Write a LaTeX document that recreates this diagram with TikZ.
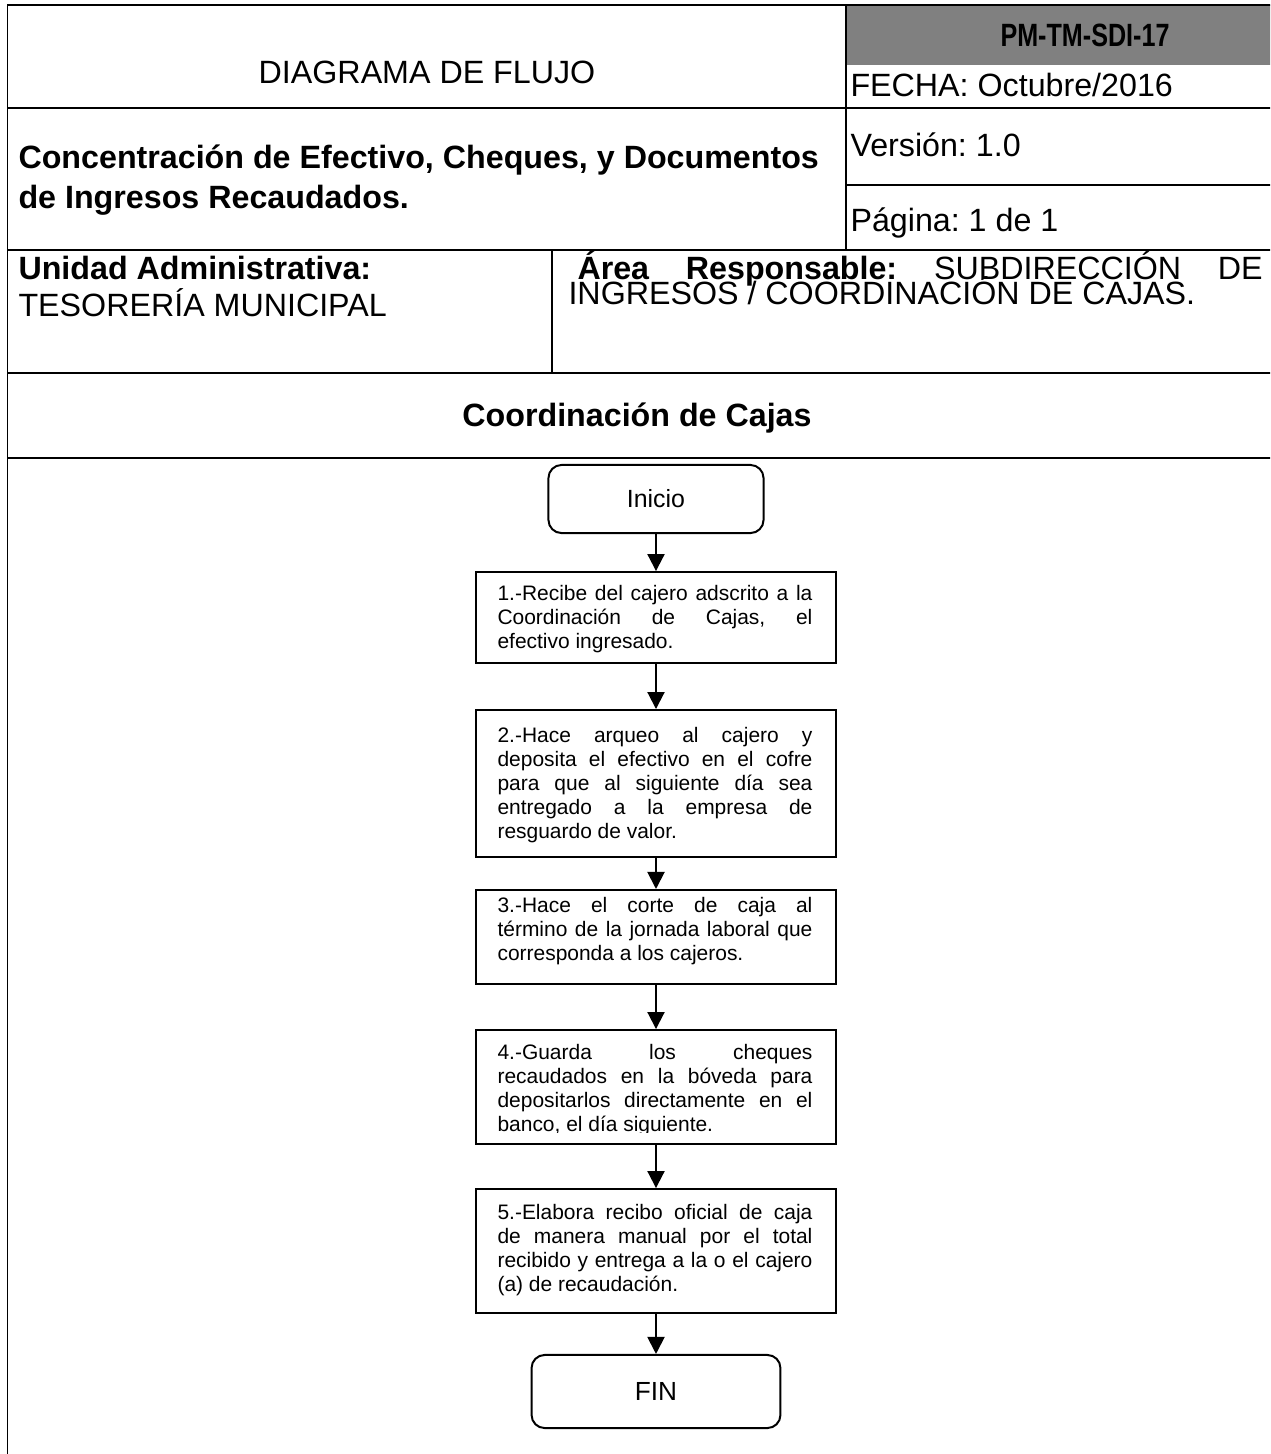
\documentclass[tikz,border=0pt]{standalone}
\usepackage{fontspec}
\usepackage{graphicx}
\setmainfont{Liberation Sans}
\usetikzlibrary{arrows.meta}
\definecolor{hdrgray}{RGB}{128,128,128}
\begin{document}
\frenchspacing
\begin{tikzpicture}[x=0.3817pt,y=-0.3817pt,
  hl/.style={line width=0.76pt},
  vthin/.style={line width=0.55pt},
  hdr/.style={inner sep=0pt,font=\fontsize{12.3}{14}\selectfont},
  hdrb/.style={inner sep=0pt,font=\fontsize{12.3}{14}\selectfont\bfseries},
  procbox/.style={draw,line width=0.76pt,minimum width=137.4pt,inner sep=0pt},
  proctext/.style={text width=120.2pt,align=justify,inner sep=0pt,font=\fontsize{8}{9.2}\selectfont},
  term/.style={draw,rounded corners=5pt,line width=0.76pt,inner sep=0pt},
  arr/.style={line width=0.76pt,-{Triangle[length=6.5pt,width=6.5pt]}}]
\useasboundingbox (0,0) rectangle (1270,1454);
\clip (0,0) rectangle (1270,1454);
% header table
\fill[hdrgray] (846,5) rectangle (1290,65);
\draw[hl] (1290,5) -- (7.5,5) -- (7.5,1470);
\draw[hl] (7.5,108) -- (1290,108);
\draw[hl] (846,5) -- (846,250);
\draw[hl] (846,185) -- (1290,185);
\draw[hl] (7.5,250) -- (1290,250);
\draw[vthin] (552,250) -- (552,373);
\draw[hl] (7.5,373) -- (1290,373);
\draw[hl] (7.5,458) -- (1290,458);
% header texts
\node[hdr,anchor=base] (tdiag) at (427,83) {DIAGRAMA DE FLUJO};
\node[hdrb,anchor=base] (tcode) at (1085,46) {\scalebox{0.78}[1]{PM-TM-SDI-17}};
\node[hdr,anchor=base west] (tfecha) at (850,96) {FECHA: Octubre/2016};
\node[hdr,anchor=base west] (tver) at (850,156) {Versión: 1.0};
\node[hdr,anchor=base west] (tpag) at (850,231) {Página: 1 de 1};
\node[hdrb,anchor=base west] (ttit1) at (18,168) {Concentración de Efectivo, Cheques, y Documentos};
\node[hdrb,anchor=base west] (ttit2) at (18,208) {de Ingresos Recaudados.};
\node[hdrb,anchor=base west] (tuni1) at (18,279) {Unidad Administrativa:};
\node[hdr,anchor=base west] (tuni2) at (18,316) {TESORERÍA MUNICIPAL};
\node[hdr,anchor=base west] (tarea1) at (577,279) {\makebox[261.5pt][s]{\textbf{Área Responsable:} SUBDIRECCIÓN DE}};
\node[hdr,anchor=base west] (tarea2) at (568,304) {INGRESOS / COORDINACIÓN DE CAJAS.};
\node[hdrb,anchor=base] (tcoord) at (637,426) {Coordinación de Cajas};
% flow
\node[term,minimum width=82.1pt,minimum height=26pt,font=\fontsize{9.5}{11}\selectfont] (ini) at (656,499) {Inicio};
\node[procbox,minimum height=34.7pt] (b1) at (656,617.5) {};
\node[procbox,minimum height=56.1pt] (b2) at (656,783.5) {};
\node[procbox,minimum height=35.9pt] (b3) at (656,937) {};
\node[procbox,minimum height=43.5pt] (b4) at (656,1087) {};
\node[procbox,minimum height=47.3pt] (b5) at (656,1251) {};
\node[term,minimum width=95pt,minimum height=27.9pt,font=\fontsize{10}{12}\selectfont] (fin) at (656,1391.5) {FIN};
\begin{scope}
\clip (b1.north west) rectangle ([yshift=4.2pt]b1.south east);
\node[proctext] (t1) at (655,619) {1.-Recibe del cajero adscrito a la\linebreak Coordinación de Cajas, el\linebreak efectivo ingresado.};
\end{scope}
\node[proctext] (t2) at (655,785) {2.-Hace arqueo al cajero y\linebreak deposita el efectivo en el cofre\linebreak para que al siguiente día sea\linebreak entregado a la empresa de\linebreak resguardo de valor.};
\node[proctext] (t3) at (655,931) {3.-Hace el corte de caja al\linebreak término de la jornada laboral que\linebreak corresponda a los cajeros.};
\begin{scope}
\clip (b4.north west) rectangle ([yshift=4.8pt]b4.south east);
\node[proctext] (t4) at (655,1090) {4.-Guarda los cheques\linebreak recaudados en la bóveda para\linebreak depositarlos directamente en el\linebreak banco, el día siguiente.};
\end{scope}
\node[proctext] (t5) at (655,1250) {5.-Elabora recibo oficial de caja\linebreak de manera manual por el total\linebreak recibido y entrega a la o el cajero\linebreak (a) de recaudación.};
\draw[arr] (ini) -- (b1);
\draw[arr] (b1) -- (b2);
\draw[arr] (b2) -- (b3);
\draw[arr] (b3) -- (b4);
\draw[arr] (b4) -- (b5);
\draw[arr] (b5) -- (fin);
\end{tikzpicture}
\end{document}
